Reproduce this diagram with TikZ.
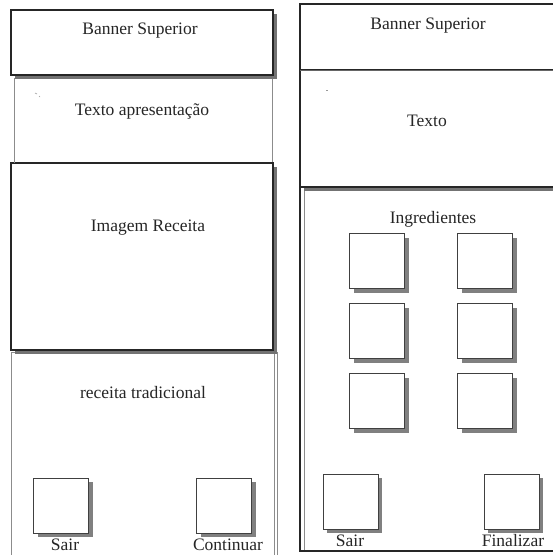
\documentclass[tikz,border=0pt]{standalone}
\usepackage{fontspec}
\setmainfont{Liberation Serif}
\usetikzlibrary{shadows}
\begin{document}
\begin{tikzpicture}[x=1pt,y=-1pt,
  lbl/.style={font=\fontsize{17.5}{20}\selectfont, text=black!85, inner sep=0pt},
  panel/.style={draw=black!85, line width=1.4pt, fill=white, inner sep=0pt, outer sep=0pt},
  thinpanel/.style={draw=black!45, line width=0.8pt, fill=white, inner sep=0pt, outer sep=0pt},
  shad/.style={drop shadow={shadow xshift=4pt, shadow yshift=-4pt, fill=black!55, opacity=1}},
  btn/.style={draw=black!75, line width=0.9pt, fill=white, inner sep=0pt, outer sep=0pt,
    minimum width=55pt, minimum height=55pt,
    drop shadow={shadow xshift=4pt, shadow yshift=-4pt, fill=black!50, opacity=1}}]
\useasboundingbox[fill=white] (0,0) rectangle (553,555);

% ---------- left screen ----------
\node[thinpanel, minimum width=263pt, minimum height=205pt] (lbottom) at (142.5,454.5) {};
\draw[black!45, line width=0.8pt] (277,352) -- (277,555);
\node[thinpanel, minimum width=258pt, minimum height=85pt] (ltexto) at (143,120.5) {};
\node[panel, shad, minimum width=262pt, minimum height=187pt] (limg) at (142,256.5) {};
\node[panel, shad, minimum width=262pt, minimum height=65pt] (lbanner) at (142,42.5) {};
\draw[black!45, line width=0.8pt] (14,78) -- (14,163);

\node[lbl] (tbanner) at (140,31) {Banner Superior};
\node[lbl] (tapres) at (142,111) {Texto apresentação};
\node[lbl] (timg) at (148,228) {Imagem Receita};
\node[lbl] (ttrad) at (143,393) {receita tradicional};
\draw[black!40, line width=0.6pt] (35,93) -- (37,94) (39,96) -- (40,97);

\node[btn] (lsair) at (61,505.5) {};
\node[btn] (lcont) at (224,505.5) {};
\node[lbl] (tlsair) at (65,545) {Sair};
\node[lbl] (tlcont) at (228,545) {Continuar};

% ---------- right screen ----------
\node[thinpanel, minimum width=256pt, minimum height=362pt] (ringr) at (432,370) {};
\draw[black!85, line width=1.2pt] (300,187) -- (300,551) -- (560,551);
\node[panel, shad, minimum width=260pt, minimum height=117pt] (rtexto) at (430,128.5) {};
\node[panel, minimum width=260pt, minimum height=66pt] (rbanner) at (430,37) {};
\draw[black!60, line width=0.8pt] (rbanner.south west) -- (rbanner.south east);

\node[lbl] (trbanner) at (428,26) {Banner Superior};
\node[lbl] (trtexto) at (427,121) {Texto};
\draw[black!40, line width=0.6pt] (326,90) -- (328,90);
\node[lbl] (tingr) at (433,219) {Ingredientes};

\node[btn] (i11) at (377,261) {};
\node[btn] (i12) at (485,261) {};
\node[btn] (i21) at (377,331) {};
\node[btn] (i22) at (485,331) {};
\node[btn] (i31) at (377,401) {};
\node[btn] (i32) at (485,401) {};

\node[btn] (rsair) at (350.5,501.5) {};
\node[btn] (rfin) at (511.5,501.5) {};
\node[lbl] (trsair) at (350,541) {Sair};
\node[lbl] (trfin) at (513,541) {Finalizar};
\end{tikzpicture}
\end{document}
